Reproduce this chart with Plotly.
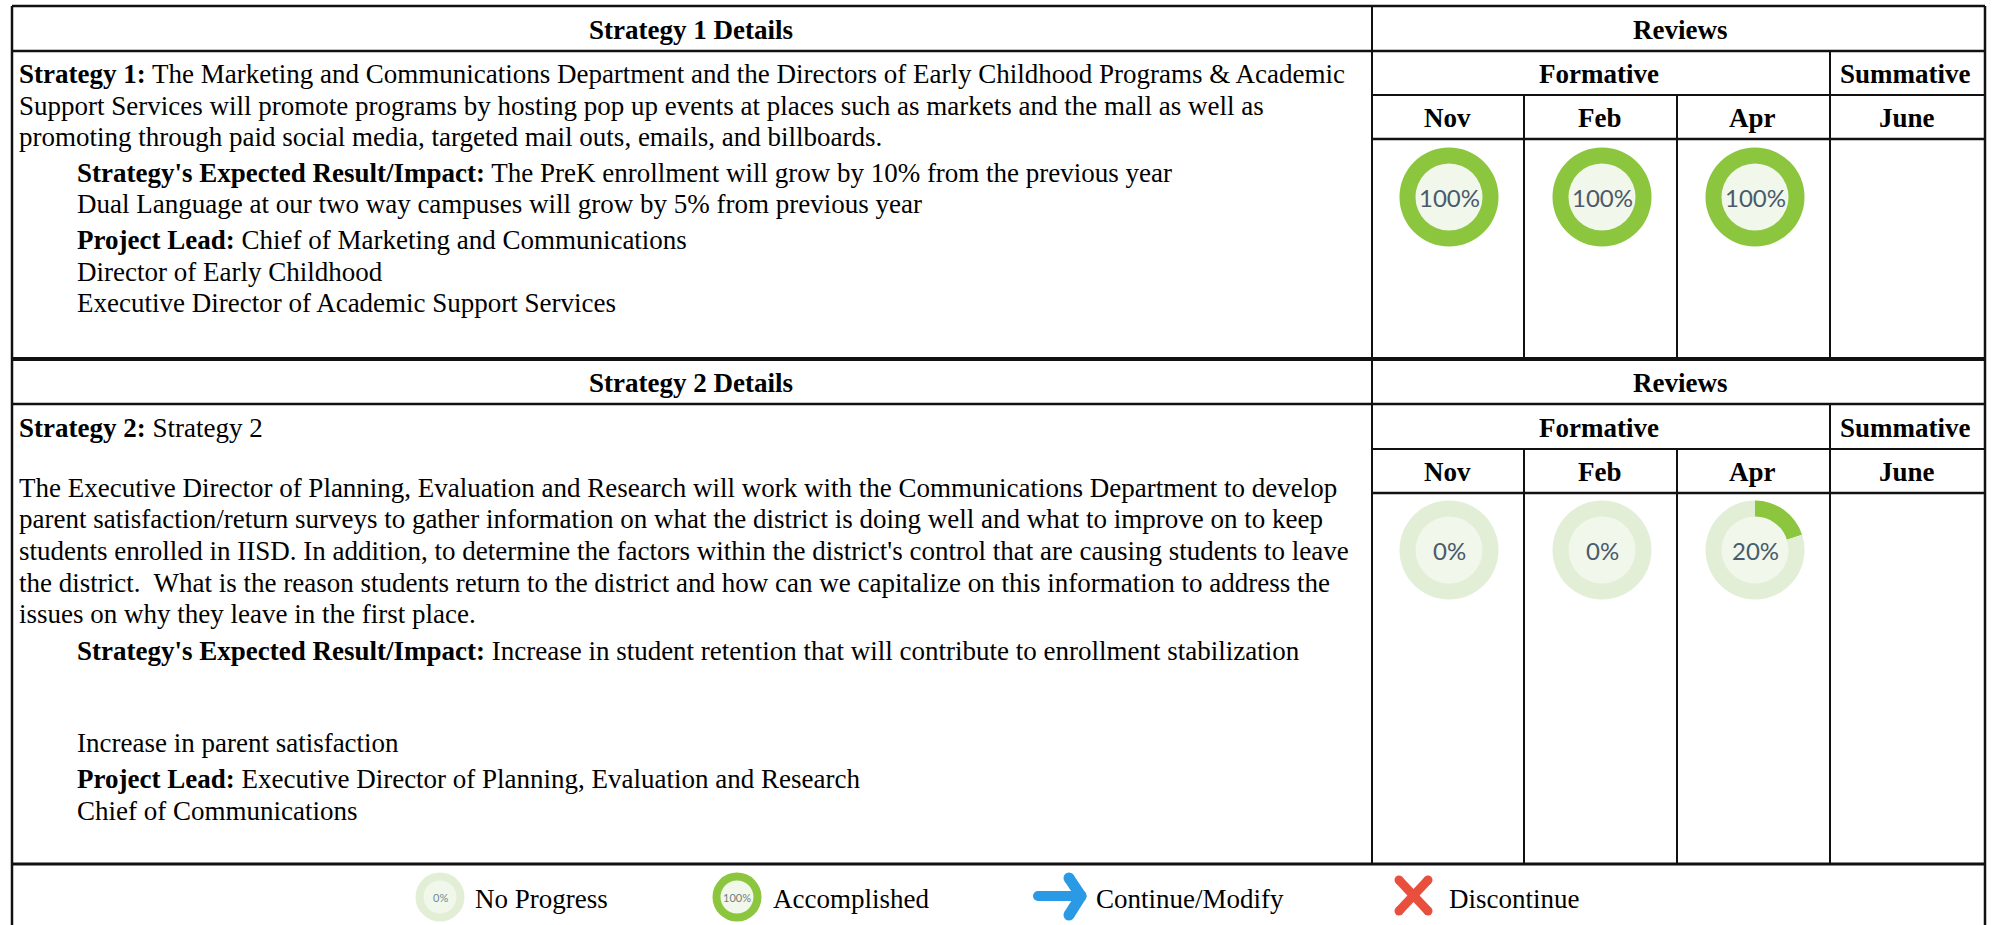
import plotly.graph_objects as go

W, H = 1993, 925
SERIF = "Liberation Serif"
BODY = 27

months = ["Nov", "Feb", "Apr"]
strategy_1_progress = [100, 100, 100]
strategy_2_progress = [0, 0, 20]
legend_labels = ["No Progress", "Accomplished", "Continue/Modify", "Discontinue"]
legend_progress = [0, 100]

strategy_1_lines = [
    (17, 74, "<b>Strategy 1:</b> The Marketing and Communications Department and the Directors of Early Childhood Programs &amp; Academic"),
    (17, 106, "Support Services will promote programs by hosting pop up events at places such as markets and the mall as well as"),
    (17, 137, "promoting through paid social media, targeted mail outs, emails, and billboards."),
    (75, 173, "<b>Strategy's Expected Result/Impact:</b> The PreK enrollment will grow by 10% from the previous year"),
    (75, 204, "Dual Language at our two way campuses will grow by 5% from previous year"),
    (75, 240, "<b>Project Lead:</b> Chief of Marketing and Communications"),
    (75, 272, "Director of Early Childhood"),
    (75, 303, "Executive Director of Academic Support Services"),
]
strategy_2_lines = [
    (17, 428, "<b>Strategy 2:</b> Strategy 2"),
    (17, 488, "The Executive Director of Planning, Evaluation and Research will work with the Communications Department to develop"),
    (17, 519, "parent satisfaction/return surveys to gather information on what the district is doing well and what to improve on to keep"),
    (17, 551, "students enrolled in IISD. In addition, to determine the factors within the district's control that are causing students to leave"),
    (17, 583, "the district.  What is the reason students return to the district and how can we capitalize on this information to address the"),
    (17, 614, "issues on why they leave in the first place."),
    (75, 651, "<b>Strategy's Expected Result/Impact:</b> Increase in student retention that will contribute to enrollment stabilization"),
    (75, 743, "Increase in parent satisfaction"),
    (75, 779, "<b>Project Lead:</b> Executive Director of Planning, Evaluation and Research"),
    (75, 811, "Chief of Communications"),
]

# table geometry (pixels)
LEFT, SPLIT, RIGHT = 12, 1372, 1985
MONTH_X = [1372, 1524, 1677, 1830, 1985]
BLOCKS = [(6, 51, 95, 139, 358), (360, 404, 449, 493, 864)]
DONUT_X = [1449, 1602, 1755]
DONUT_Y = [197, 550]
R, R_IN = 49.5, 33.5
GREEN, PALE, CORE = "#8cc63f", "#e2efd6", "#f1f7ea"

fig = go.Figure()
shapes, notes = [], []


def line(x0, y0, x1, y1, w=2.0, color="#111111"):
    shapes.append(dict(type="line", x0=x0, y0=y0, x1=x1, y1=y1, line=dict(color=color, width=w)))


def stroke(x0, y0, x1, y1, w, color):
    line(x0, y0, x1, y1, w, color)
    for x, y in ((x0, y0), (x1, y1)):
        shapes.append(dict(type="circle", x0=x - w / 2, x1=x + w / 2, y0=y - w / 2, y1=y + w / 2,
                           fillcolor=color, line=dict(width=0)))


def text(x, y, s, size=BODY, anchor="left", color="#000000", family=SERIF):
    notes.append(dict(x=x, y=y, text=s, showarrow=False, xanchor=anchor, yanchor="middle",
                      font=dict(family=family, size=size, color=color), align=anchor))


def donut(cx, cy, r, r_in, pct, label_size, label_color="#4a5a6c"):
    shapes.append(dict(type="circle", x0=cx - r_in - 1, x1=cx + r_in + 1, y0=cy - r_in - 1, y1=cy + r_in + 1,
                       fillcolor=CORE, line=dict(width=0), layer="below"))
    fig.add_trace(go.Pie(values=[pct, 100 - pct], sort=False, direction="clockwise", rotation=0,
                         hole=r_in / r, textinfo="none", hoverinfo="skip", showlegend=False,
                         marker=dict(colors=[GREEN, PALE], line=dict(width=0)),
                         domain=dict(x=[(cx - r) / W, (cx + r) / W], y=[1 - (cy + r) / H, 1 - (cy - r) / H])))
    text(cx, cy, f"{pct}%", size=label_size, anchor="center", color=label_color, family="Lato")


# frame
line(LEFT, 6, RIGHT, 6, 2.5)
line(LEFT, 6, LEFT, H, 2.5)
line(RIGHT, 6, RIGHT, H, 2.5)
line(SPLIT, 6, SPLIT, 864, 2)
line(LEFT, 359, RIGHT, 359, 4)
line(LEFT, 864, RIGHT, 864, 3)

for i, (top, a, b, c, bottom) in enumerate(BLOCKS):
    line(LEFT, a, RIGHT, a, 2.5)
    line(SPLIT, b, RIGHT, b, 2)
    line(SPLIT, c, RIGHT, c, 2.5)
    line(MONTH_X[3], a, MONTH_X[3], bottom, 2)
    for mx in MONTH_X[1:3]:
        line(mx, b, mx, bottom, 2)
    text((LEFT + SPLIT) / 2 - 1, (top + a) / 2 + 1, f"<b>Strategy {i + 1} Details</b>", anchor="center")
    text((SPLIT + RIGHT) / 2 + 1, (top + a) / 2 + 1, "<b>Reviews</b>", anchor="center")
    text((SPLIT + MONTH_X[3]) / 2 - 2, (a + b) / 2 + 1, "<b>Formative</b>", anchor="center")
    text((MONTH_X[3] + RIGHT) / 2 - 2, (a + b) / 2 + 1, "<b>Summative</b>", anchor="center")
    for j, m in enumerate(months + ["June"]):
        text((MONTH_X[j] + MONTH_X[j + 1]) / 2 - 1, (b + c) / 2 + 1, f"<b>{m}</b>", anchor="center")

for x, y, s in strategy_1_lines + strategy_2_lines:
    text(x, y, s)

for cx, p in zip(DONUT_X, strategy_1_progress):
    donut(cx, DONUT_Y[0], R, R_IN, p, 24)
for cx, p in zip(DONUT_X, strategy_2_progress):
    donut(cx, DONUT_Y[1], R, R_IN, p, 24)

# legend
donut(440, 897, 24.5, 16.5, legend_progress[0], 11, "#6f8a9a")
donut(737, 897, 24.5, 16.5, legend_progress[1], 11, "#6f7f7f")
text(473, 899, legend_labels[0])
text(771, 899, legend_labels[1])
text(1094, 899, legend_labels[2])
text(1447, 899, legend_labels[3])

BLUE, RED = "#2a9ae6", "#e94f3d"
stroke(1038, 896, 1080, 896, 10, BLUE)
stroke(1069, 878, 1081, 896, 11, BLUE)
stroke(1081, 896, 1069, 915, 11, BLUE)
stroke(1399, 880, 1428, 911, 9, RED)
stroke(1428, 880, 1399, 911, 9, RED)

fig.update_layout(
    width=W, height=H, margin=dict(l=0, r=0, t=0, b=0), autosize=False,
    paper_bgcolor="white", plot_bgcolor="rgba(0,0,0,0)", showlegend=False,
    xaxis=dict(range=[0, W], visible=False, fixedrange=True),
    yaxis=dict(range=[H, 0], visible=False, fixedrange=True),
    shapes=shapes, annotations=notes,
)
fig.add_trace(go.Scatter(x=[0, W], y=[0, H], mode="markers", marker=dict(opacity=0), hoverinfo="skip", showlegend=False))
fig.write_html("out.html", config=dict(displayModeBar=False),
               post_script="document.body.style.margin='0';document.body.style.overflow='hidden';")
